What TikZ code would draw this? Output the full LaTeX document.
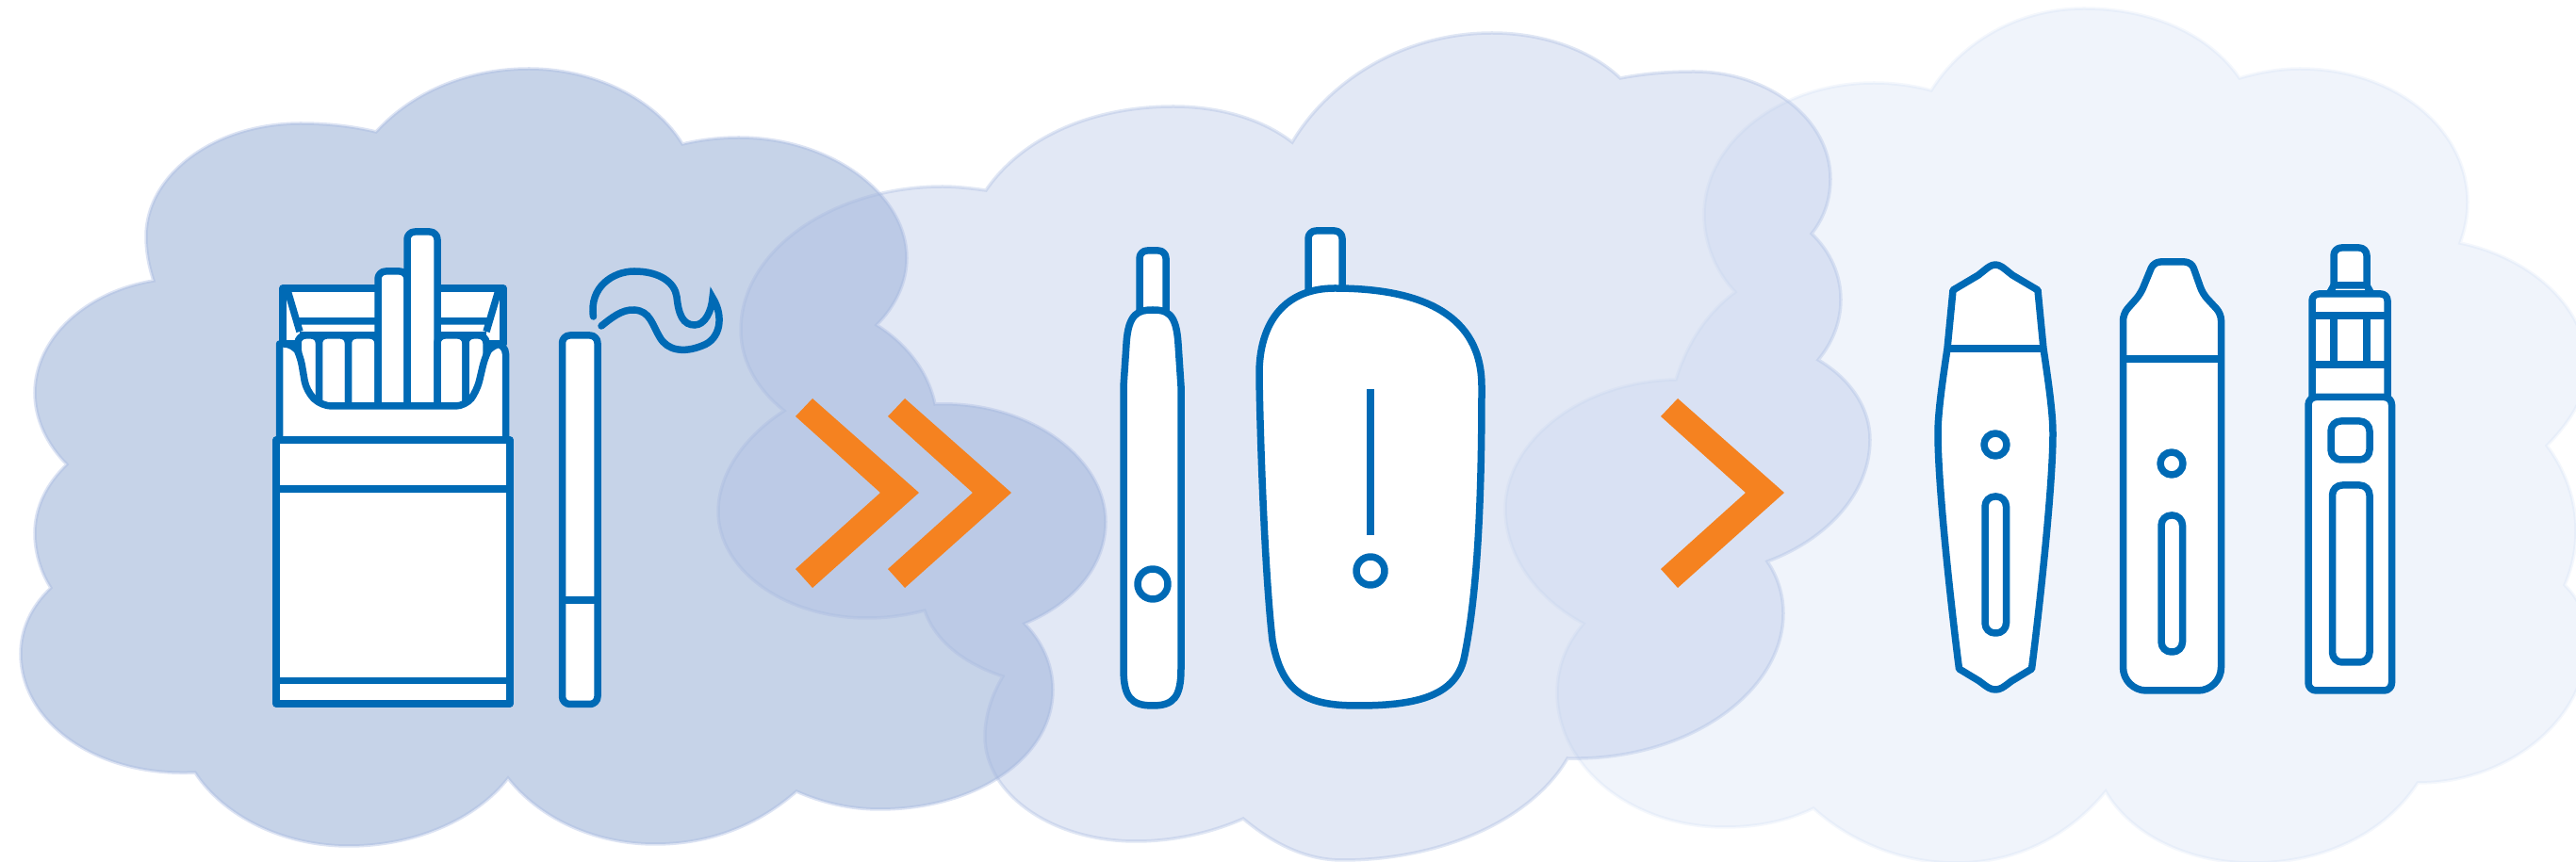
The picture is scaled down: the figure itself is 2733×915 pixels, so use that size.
\documentclass[tikz,border=0pt]{standalone}
\usepackage{xcolor}
\definecolor{cloudblue}{HTML}{2E5CAB}
\definecolor{midblue}{HTML}{A7B9E0}
\definecolor{paleblue}{HTML}{B4C8EB}
\definecolor{iconblue}{HTML}{006AB5}
\definecolor{chevroncolor}{HTML}{F58220}

\begin{document}
\begin{tikzpicture}[
    x=0.1mm, y=-0.1mm,
    darkcloud/.style={fill=cloudblue, fill opacity=0.27, draw=midblue, draw opacity=0.4, line width=0.35mm},
    midcloud/.style={fill=midblue, fill opacity=0.33, draw=midblue, draw opacity=0.35, line width=0.35mm},
    palecloud/.style={fill=paleblue, fill opacity=0.2, draw=paleblue, draw opacity=0.15, line width=0.35mm},
    icon/.style={draw=iconblue, fill=white, line width=0.75mm, line join=round},
    iconline/.style={draw=iconblue, line width=0.75mm},
    chevron/.style={fill=chevroncolor},
]

\useasboundingbox (0,0) rectangle (2733,915);

% clouds
\path[darkcloud] (399,140) .. controls (440,95) and (500,73) .. (561,73) .. controls (630,73) and (695,105) .. (724,153)
  .. controls (745,148) and (765,146) .. (784,146) .. controls (880,146) and (962,205) .. (962,274) .. controls (962,300) and (950,325) .. (930,345)
  .. controls (962,365) and (985,395) .. (992,429)
  .. controls (1090,425) and (1173,485) .. (1173,554) .. controls (1173,600) and (1140,640) .. (1087,662)
  .. controls (1105,680) and (1117,705) .. (1117,732) .. controls (1117,805) and (1035,859) .. (933,859) .. controls (902,859) and (872,852) .. (845,840)
  .. controls (805,875) and (755,896) .. (695,896) .. controls (630,896) and (572,868) .. (539,826)
  .. controls (505,870) and (440,898) .. (370,898) .. controls (300,898) and (237,866) .. (207,820)
  .. controls (100,825) and (22,765) .. (22,694) .. controls (22,668) and (33,644) .. (54,624)
  .. controls (43,607) and (37,586) .. (37,566) .. controls (37,538) and (50,513) .. (71,493)
  .. controls (50,472) and (37,445) .. (37,417) .. controls (37,360) and (90,310) .. (163,298)
  .. controls (158,283) and (155,267) .. (155,251) .. controls (155,185) and (228,131) .. (319,131) .. controls (347,131) and (374,134) .. (399,140) -- cycle;

\path[midcloud] (1046,202) .. controls (1085,145) and (1160,113) .. (1245,113) .. controls (1295,113) and (1340,127) .. (1371,151)
  .. controls (1410,85) and (1490,35) .. (1583,35) .. controls (1640,35) and (1690,55) .. (1719,83)
  .. controls (1745,78) and (1770,76) .. (1797,76) .. controls (1877,76) and (1942,127) .. (1942,190) .. controls (1942,212) and (1935,232) .. (1922,248)
  .. controls (1942,267) and (1953,292) .. (1953,318) .. controls (1953,342) and (1944,364) .. (1929,382)
  .. controls (1963,402) and (1984,433) .. (1984,467) .. controls (1984,522) and (1940,572) .. (1875,596)
  .. controls (1886,612) and (1892,631) .. (1892,651) .. controls (1892,735) and (1790,808) .. (1663,805)
  .. controls (1625,870) and (1530,913) .. (1424,913) .. controls (1385,913) and (1350,895) .. (1319,869)
  .. controls (1285,884) and (1245,893) .. (1205,893) .. controls (1115,893) and (1045,842) .. (1045,782) .. controls (1045,760) and (1052,738) .. (1064,718)
  .. controls (1022,704) and (992,680) .. (981,648)
  .. controls (962,653) and (941,656) .. (920,656) .. controls (833,656) and (762,605) .. (762,543) .. controls (762,503) and (790,463) .. (832,436)
  .. controls (803,413) and (786,383) .. (786,350) .. controls (786,265) and (885,198) .. (1000,198) .. controls (1015,198) and (1031,200) .. (1046,202) -- cycle;

\path[palecloud] (2049,96) .. controls (2080,46) and (2140,9) .. (2211,9) .. controls (2285,9) and (2345,38) .. (2376,83)
  .. controls (2396,77) and (2418,73) .. (2440,73) .. controls (2540,73) and (2618,136) .. (2618,215) .. controls (2618,230) and (2615,244) .. (2610,258)
  .. controls (2690,275) and (2745,330) .. (2745,390) .. controls (2745,420) and (2725,450) .. (2702,473)
  .. controls (2730,510) and (2745,565) .. (2721,621)
  .. controls (2740,640) and (2745,660) .. (2745,680) .. controls (2745,765) and (2660,831) .. (2565,831)
  .. controls (2530,885) and (2465,916) .. (2390,916) .. controls (2320,916) and (2260,885) .. (2234,840)
  .. controls (2195,887) and (2140,916) .. (2075,916) .. controls (2020,916) and (1965,895) .. (1924,858)
  .. controls (1895,872) and (1863,878) .. (1830,878) .. controls (1732,878) and (1652,815) .. (1652,735) .. controls (1652,708) and (1662,683) .. (1680,662)
  .. controls (1630,635) and (1597,590) .. (1597,540) .. controls (1597,470) and (1675,405) .. (1778,403)
  .. controls (1790,365) and (1810,333) .. (1841,310)
  .. controls (1820,288) and (1808,258) .. (1808,228) .. controls (1808,150) and (1890,88) .. (1988,88) .. controls (2010,88) and (2030,91) .. (2049,96) -- cycle;

% chevrons
\foreach \chevx in {0,98,918} {
  \fill[chevron, shift={(\chevx,0)}] (862,423) -- (975,523) -- (862,624) -- (844,604) -- (934,523) -- (844,442) -- cycle;
}

% cigarette pack
\draw[icon] (300,306) rectangle (534,365);
\draw[iconline] (305,308) -- (318,352) (529,308) -- (516,352) (316,341) -- (516,341);
\draw[iconline] (318,356) -- (516,356);
\foreach \cigl/\cigr/\cigtop in {316/338.5/356, 338.5/369.5/356, 369.5/401/356, 401/432/288, 432/464/246, 464/494/356, 494/516/356} {
  \draw[icon, rounded corners=2.3pt] (\cigl,431) -- (\cigl,\cigtop) -- (\cigr,\cigtop) -- (\cigr,431);
}
\draw[icon] (296.5,467) -- (296.5,365) [rounded corners=3pt] -- (312,365) -- (318.5,377) -- (325,415) -- (341,431) -- (494,431) -- (506,415) -- (515,377) -- (522,365) -- (536.5,365) [sharp corners] -- (536.5,467) -- cycle;
\draw[icon] (293,467) rectangle (541,747);
\draw[iconline] (293,519) -- (541,519) (293,722.5) -- (541,722.5);

% cigarette and smoke
\draw[icon, rounded corners=2.3pt] (596.5,356) rectangle (634,747.5);
\draw[iconline] (596.5,637) -- (634,637);
\draw[iconline, line cap=round] (629.5,336) .. controls (625,305) and (650,288) .. (673,288) .. controls (700,288) and (716,300) .. (718,315) .. controls (720,335) and (725,345) .. (737,345) .. controls (748,345) and (755,330) .. (756,316)
  .. controls (768,335) and (765,360) .. (745,367) .. controls (725,375) and (708,372) .. (700,358) .. controls (692,345) and (690,330) .. (673,329) .. controls (660,328) and (648,338) .. (638,346);

% heated stick device
\draw[icon, rounded corners=2.3pt] (1209,335) -- (1209,266) -- (1237,266) -- (1237,335);
\draw[icon] (1223,329) .. controls (1238,329) and (1248,332) .. (1250,365) -- (1253,410) -- (1253,710) .. controls (1253,740) and (1245,749) .. (1223,749) .. controls (1200,749) and (1192,740) .. (1192,710) -- (1192,410) -- (1195,365) .. controls (1197,332) and (1208,329) .. (1223,329) -- cycle;
\draw[icon] (1223,620) circle (16);

% pocket device
\draw[icon, rounded corners=2.3pt] (1388,315) -- (1388,245) -- (1424,245) -- (1424,315);
\draw[icon] (1416,306) .. controls (1510,306) and (1572,335) .. (1572,410) .. controls (1572,500) and (1570,620) .. (1553,700) .. controls (1543,740) and (1500,749) .. (1440,749) .. controls (1385,749) and (1360,735) .. (1350,680) .. controls (1342,610) and (1337,470) .. (1336,400) .. controls (1335,340) and (1365,306) .. (1416,306) -- cycle;
\draw[iconline] (1454,413) -- (1454,568);
\draw[icon] (1454,606) circle (15);

% pod with pointed ends
\draw[icon] (2072,308) -- (2066,370) .. controls (2060,410) and (2056,440) .. (2056,460) .. controls (2056,520) and (2072,660) .. (2078.5,710)
  -- (2100,723) .. controls (2109,730) and (2112,732) .. (2117,732) .. controls (2122,732) and (2125,730) .. (2134,723) -- (2155.5,710)
  .. controls (2162,660) and (2178,520) .. (2178,460) .. controls (2178,440) and (2174,410) .. (2168,370) -- (2162,308)
  -- (2135,292) .. controls (2125,284) and (2122,281) .. (2117,281) .. controls (2112,281) and (2109,284) .. (2099,292) -- cycle;
\draw[iconline] (2066.5,370) -- (2167.5,370);
\draw[icon] (2117,472) circle (12);
\draw[icon, rounded corners=3pt] (2106,527) rectangle (2128.5,672);

% pod with flat top
\draw[icon] (2304,733) [rounded corners=7pt] -- (2356.5,733) -- (2356.5,600) [rounded corners=2pt] -- (2356.5,333) -- (2337,312) -- (2325,278) -- (2285,278) -- (2271,312) -- (2252.5,333) -- (2252.5,600) [rounded corners=7pt] -- (2252.5,733) -- cycle;
\draw[iconline] (2252.5,381) -- (2356.5,381);
\draw[icon] (2304,492) circle (12);
\draw[icon, rounded corners=3pt] (2293,547) rectangle (2315.5,692);

% box mod
\draw[icon, rounded corners=2.3pt] (2476,303) -- (2476,263) -- (2511,263) -- (2511,303);
\draw[icon] (2471,312) -- (2476,303) -- (2511,303) -- (2516,312) -- cycle;
\draw[icon, rounded corners=2pt] (2453,421) -- (2453,312) -- (2533,312) -- (2533,421);
\draw[iconline] (2453,335) -- (2533,335) (2453,387) -- (2533,387) (2476,335) -- (2476,387) (2511,335) -- (2511,387);
\draw[icon, rounded corners=2.3pt] (2449,421.5) rectangle (2537.5,733);
\draw[icon, rounded corners=3pt] (2473,447) rectangle (2514,488);
\draw[icon, rounded corners=3pt] (2474.5,515) rectangle (2514,703);

\end{tikzpicture}
\end{document}
